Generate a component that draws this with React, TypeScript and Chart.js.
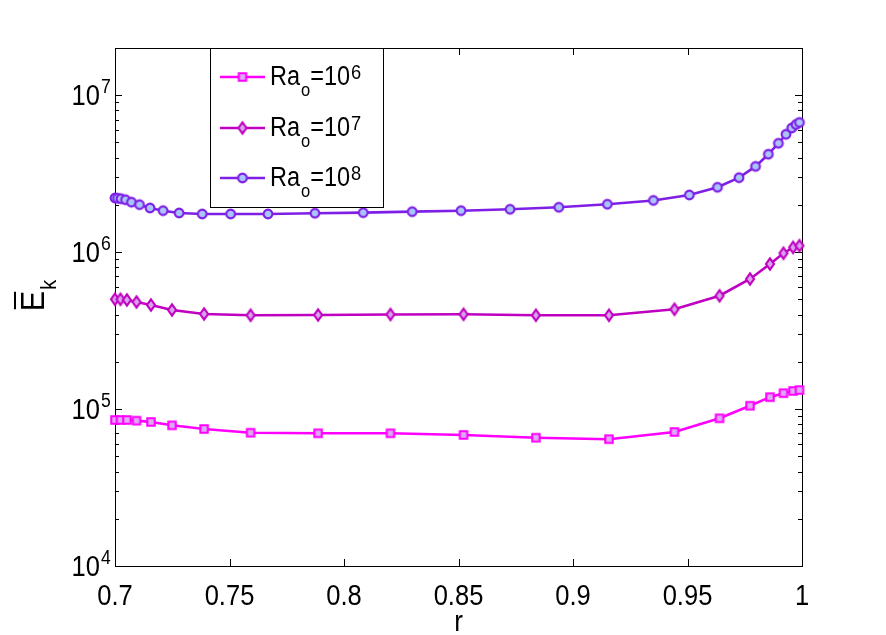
import React, { useEffect, useRef } from 'react';
import { Chart, registerables } from 'chart.js';

Chart.register(...registerables);

// ---- data ----
const rRa8 = [0.7, 0.7011, 0.7026, 0.7046, 0.7072, 0.7107, 0.7153, 0.721, 0.728, 0.7381, 0.7505, 0.7668, 0.7873, 0.8084, 0.8298, 0.8511, 0.8725, 0.8938, 0.915, 0.9351, 0.9508, 0.9631, 0.9725, 0.9797, 0.9853, 0.9897, 0.993, 0.9955, 0.9974, 0.9989];
const ekRa8 = [2.215e6, 2.206e6, 2.19e6, 2.158e6, 2.083e6, 2.007e6, 1.912e6, 1.838e6, 1.777e6, 1.752e6, 1.752e6, 1.752e6, 1.77e6, 1.785e6, 1.812e6, 1.838e6, 1.876e6, 1.932e6, 2.02e6, 2.136e6, 2.315e6, 2.592e6, 2.985e6, 3.518e6, 4.207e6, 4.943e6, 5.641e6, 6.188e6, 6.514e6, 6.707e6];

const rRa67 = [0.7, 0.7024, 0.7052, 0.7094, 0.7157, 0.7249, 0.7389, 0.7592, 0.7887, 0.8203, 0.8522, 0.8838, 0.9157, 0.9443, 0.964, 0.9773, 0.986, 0.9919, 0.9961, 0.9989];
const ekRa7 = [5.01e5, 5.01e5, 4.958e5, 4.815e5, 4.608e5, 4.281e5, 4.037e5, 3.961e5, 3.978e5, 4.008e5, 4.02e5, 3.961e5, 3.961e5, 4.325e5, 5.274e5, 6.748e5, 8.41e5, 9.842e5, 1.072e6, 1.1e6];
const ekRa6 = [8.52e4, 8.52e4, 8.52e4, 8.44e4, 8.28e4, 7.88e4, 7.47e4, 7.07e4, 7.01e4, 7.01e4, 6.84e4, 6.57e4, 6.43e4, 7.15e4, 8.74e4, 1.051e5, 1.191e5, 1.263e5, 1.305e5, 1.323e5];

const xTicks = [0.7, 0.75, 0.8, 0.85, 0.9, 0.95, 1];
const xTickLabels = ['0.7', '0.75', '0.8', '0.85', '0.9', '0.95', '1'];
const yMajorExps = [4, 5, 6, 7];
const legendExps = ['6', '7', '8'];
const xTitle = 'r';

const FONT = '"Liberation Sans", Arial, Helvetica, sans-serif';

const COL6 = '#ff00ff';
const COL7 = '#c000c0';
const COL8 = '#7f1fe6';

function makeMarker(shape: string, stroke: string, fill: string): HTMLCanvasElement {
  const c = document.createElement('canvas');
  c.width = 16;
  c.height = 16;
  const g = c.getContext('2d')!;
  g.translate(8, 8);
  g.strokeStyle = stroke;
  g.fillStyle = fill;
  g.lineWidth = 2.1;
  g.beginPath();
  if (shape === 'square') {
    g.rect(-3.7, -3.7, 7.4, 7.4);
  } else if (shape === 'diamond') {
    g.moveTo(0, -5.6);
    g.lineTo(4.0, 0);
    g.lineTo(0, 5.6);
    g.lineTo(-4.0, 0);
    g.closePath();
  } else {
    g.arc(0, 0, 4.4, 0, Math.PI * 2);
  }
  g.fill();
  g.stroke();
  return c;
}

function txt(ctx: CanvasRenderingContext2D, s: string, x: number, y: number, size: number, align: CanvasTextAlign = 'left', sx = 0.88): number {
  ctx.save();
  ctx.font = `${size}px ${FONT}`;
  ctx.textAlign = align;
  ctx.textBaseline = 'alphabetic';
  ctx.fillStyle = '#000';
  ctx.translate(x, y);
  ctx.scale(sx, 1);
  ctx.fillText(s, 0, 0);
  const w = ctx.measureText(s).width * sx;
  ctx.restore();
  return w;
}

export default function App() {
  const ref = useRef<HTMLCanvasElement | null>(null);

  useEffect(() => {
    if (!ref.current) return;
    const mSq = makeMarker('square', COL6, '#dcaaf6');
    const mDi = makeMarker('diamond', COL7, '#d8a4ee');
    const mCi = makeMarker('circle', COL8, '#a8c6fb');
    const markers = [mSq, mDi, mCi];
    const colors = [COL6, COL7, COL8];

    const axesPlugin = {
      id: 'matlabAxes',
      beforeDatasetsDraw(chart: any) {
        const { ctx, chartArea: a, scales } = chart;
        const x = scales.x;
        const y = scales.y;
        ctx.save();
        ctx.strokeStyle = '#000';
        ctx.lineWidth = 1;
        ctx.beginPath();
        for (const t of xTicks) {
          const px = Math.round(x.getPixelForValue(t)) + 0.5;
          ctx.moveTo(px, a.bottom);
          ctx.lineTo(px, a.bottom - 7);
          ctx.moveTo(px, a.top);
          ctx.lineTo(px, a.top + 7);
        }
        for (const e of yMajorExps) {
          for (let m = 1; m <= 9; m++) {
            const v = m * Math.pow(10, e);
            if (v > y.max * 1.0001) break;
            const py = Math.round(y.getPixelForValue(v)) + 0.5;
            const len = m === 1 ? 7 : 4;
            ctx.moveTo(a.left, py);
            ctx.lineTo(a.left + len, py);
            ctx.moveTo(a.right, py);
            ctx.lineTo(a.right - len, py);
          }
        }
        ctx.stroke();
        ctx.strokeRect(Math.round(a.left) + 0.5, Math.round(a.top) + 0.5, Math.round(a.right - a.left), Math.round(a.bottom - a.top));

        // x tick labels
        xTicks.forEach((t, i) => {
          txt(ctx, xTickLabels[i], x.getPixelForValue(t), a.bottom + 39, 29, 'center', 0.88);
        });
        // y tick labels 10^e
        for (const e of yMajorExps) {
          const py = y.getPixelForValue(Math.pow(10, e));
          txt(ctx, '10', a.left - 15, py + 10, 29, 'right', 0.88);
          txt(ctx, String(e), a.left - 14, py - 2, 20, 'left', 0.88);
        }
        // x title
        txt(ctx, xTitle, (a.left + a.right) / 2, a.bottom + 65, 29, 'center', 0.9);

        // y title: E with overbar, subscript k, rotated
        ctx.save();
        ctx.translate(44, 296);
        ctx.rotate(-Math.PI / 2);
        ctx.font = `34px ${FONT}`;
        const wE = ctx.measureText('E').width * 0.9;
        ctx.font = `22px ${FONT}`;
        const wk = ctx.measureText('k').width * 0.9;
        const total = wE + wk;
        const x0 = -total / 2;
        txt(ctx, 'E', x0, 0, 34, 'left', 0.9);
        txt(ctx, 'k', x0 + wE + 1, 12, 22, 'left', 0.9);
        ctx.lineWidth = 2;
        ctx.beginPath();
        ctx.moveTo(x0 + 2, -29);
        ctx.lineTo(x0 + wE - 1, -29);
        ctx.stroke();
        ctx.restore();

        ctx.restore();
      },
      afterDatasetsDraw(chart: any) {
        const { ctx, chartArea: a } = chart;
        ctx.save();
        const lx = 210;
        const ly = a.top;
        const lw = 173;
        const lh = 159;
        ctx.fillStyle = '#fff';
        ctx.fillRect(lx, ly, lw, lh);
        ctx.strokeStyle = '#000';
        ctx.lineWidth = 1;
        ctx.strokeRect(lx + 0.5, ly + 0.5, lw, lh);
        const rows = [ly + 29, ly + 80, ly + 130];
        rows.forEach((ry, i) => {
          ctx.strokeStyle = colors[i];
          ctx.lineWidth = 2.6;
          ctx.beginPath();
          ctx.moveTo(lx + 10, ry);
          ctx.lineTo(lx + 55, ry);
          ctx.stroke();
          const mk = markers[i];
          ctx.drawImage(mk, lx + 32.5 - mk.width / 2, ry - mk.height / 2);
          let cx = lx + 60;
          const base = ry + 8;
          cx += txt(ctx, 'Ra', cx, base, 27, 'left', 0.87);
          cx += txt(ctx, 'o', cx + 1, base + 11, 19, 'left', 0.87) + 1;
          cx += txt(ctx, '=10', cx, base, 27, 'left', 0.87);
          txt(ctx, legendExps[i], cx + 1, base - 6, 21, 'left', 0.87);
        });
        ctx.restore();
      },
    };

    const mk = (xs: number[], ys: number[]) => xs.map((r, i) => ({ x: r, y: ys[i] }));

    const chart = new Chart(ref.current, {
      type: 'line',
      data: {
        datasets: [
          {
            label: 'Ra_o=10^6',
            data: mk(rRa67, ekRa6),
            borderColor: COL6,
            borderWidth: 2.6,
            pointStyle: mSq as any,
            pointRadius: 5,
            tension: 0,
            clip: false as any,
          },
          {
            label: 'Ra_o=10^7',
            data: mk(rRa67, ekRa7),
            borderColor: COL7,
            borderWidth: 2.6,
            pointStyle: mDi as any,
            pointRadius: 5,
            tension: 0,
            clip: false as any,
          },
          {
            label: 'Ra_o=10^8',
            data: mk(rRa8, ekRa8),
            borderColor: COL8,
            borderWidth: 2.6,
            pointStyle: mCi as any,
            pointRadius: 5,
            tension: 0,
            clip: false as any,
          },
        ],
      },
      options: {
        animation: false,
        responsive: false,
        events: [],
        layout: { padding: { left: 115, right: 84, top: 48, bottom: 69 } },
        plugins: { legend: { display: false }, tooltip: { enabled: false } },
        scales: {
          x: { type: 'linear', min: 0.7, max: 1, display: false },
          y: { type: 'logarithmic', min: 1e4, max: 2e7, display: false },
        },
      },
      plugins: [axesPlugin],
    });
    return () => chart.destroy();
  }, []);

  return (
    <div style={{ position: 'absolute', left: 0, top: 0, width: 886, height: 635, background: '#fff' }}>
      <canvas ref={ref} width={886} height={635} style={{ display: 'block' }} />
    </div>
  );
}
